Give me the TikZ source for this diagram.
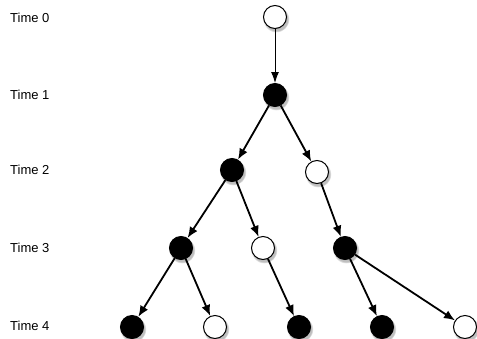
\documentclass[tikz,border=0pt]{standalone}
\usepackage{fontspec}
\setmainfont{Liberation Sans}
\usetikzlibrary{arrows.meta,shadows}
\begin{document}
\begin{tikzpicture}[x=1pt,y=-1pt,
  base/.style={circle,draw=black,line width=1pt,minimum size=23pt,inner sep=0pt,
    circular drop shadow={shadow xshift=1pt,shadow yshift=-2pt,shadow scale=1.15,opacity=0.5}},
  blk/.style={base,fill=black},
  wht/.style={base,fill=white},
  lab/.style={anchor=west,inner sep=0pt,font=\fontsize{13}{15}\selectfont},
  edge/.style={line width=1.8pt,-{Latex[length=11pt,width=9pt]}},
  thin edge/.style={line width=1pt,-{Latex[length=11pt,width=8pt]}}]
\useasboundingbox (0,0) rectangle (477,338);
\node[lab] (t0) at (10,18) {Time 0};
\node[lab] (t1) at (10,95) {Time 1};
\node[lab] (t2) at (10,170) {Time 2};
\node[lab] (t3) at (10,248) {Time 3};
\node[lab] (t4) at (10,326) {Time 4};
\node[wht] (n0) at (275,17) {};
\node[blk] (n1) at (275,95) {};
\node[blk] (n2a) at (232,170) {};
\node[wht] (n2b) at (317,172) {};
\node[blk] (n3a) at (181,248) {};
\node[wht] (n3b) at (263,248) {};
\node[blk] (n3c) at (345,248) {};
\node[blk] (n4a) at (132,327) {};
\node[wht] (n4b) at (215,327) {};
\node[blk] (n4c) at (299,327) {};
\node[blk] (n4d) at (382,327) {};
\node[wht] (n4e) at (465,327) {};
\draw[thin edge] (n0) -- (n1);
\draw[edge] (n1) -- (n2a);
\draw[edge] (n1) -- (n2b);
\draw[edge] (n2a) -- (n3a);
\draw[edge] (n2a) -- (n3b);
\draw[edge] (n2b) -- (n3c);
\draw[edge] (n3a) -- (n4a);
\draw[edge] (n3a) -- (n4b);
\draw[edge] (n3b) -- (n4c);
\draw[edge] (n3c) -- (n4d);
\draw[edge] (n3c) -- (n4e);
\end{tikzpicture}
\end{document}
